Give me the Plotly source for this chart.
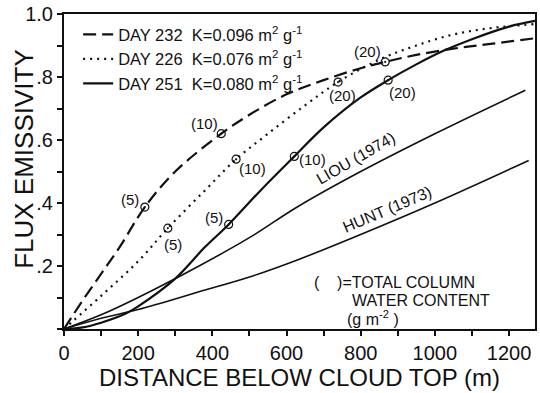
import plotly.graph_objects as go

# ---- data ----
dist_232 = [0, 50, 100, 150, 218, 300, 424, 500, 600, 700, 800, 866, 950, 1050, 1150, 1270]
emis_232 = [0, 0.09, 0.175, 0.26, 0.387, 0.5, 0.62, 0.68, 0.745, 0.79, 0.828, 0.848, 0.87, 0.89, 0.905, 0.923]

dist_226 = [0, 100, 200, 280, 380, 464, 550, 650, 739, 850, 950, 1050, 1150, 1270]
emis_226 = [0, 0.105, 0.215, 0.32, 0.44, 0.539, 0.62, 0.71, 0.784, 0.855, 0.9, 0.935, 0.955, 0.968]

dist_251 = [0, 50, 100, 168, 200, 300, 380, 444, 530, 621, 700, 800, 874, 950, 1023, 1100, 1200, 1270]
emis_251 = [0, 0.005, 0.02, 0.05, 0.072, 0.16, 0.26, 0.332, 0.44, 0.548, 0.64, 0.735, 0.79, 0.84, 0.883, 0.92, 0.96, 0.978]

dist_liou = [0, 100, 200, 364, 500, 631, 800, 1000, 1244]
emis_liou = [0, 0.045, 0.1, 0.2, 0.29, 0.389, 0.5, 0.62, 0.758]

dist_hunt = [0, 100, 200, 364, 500, 631, 800, 1000, 1253]
emis_hunt = [0, 0.034, 0.062, 0.118, 0.165, 0.22, 0.3, 0.4, 0.535]

# water-content markers (g m^-2)
mark_232_x = [218, 424, 866]
mark_232_y = [0.387, 0.62, 0.848]
mark_226_x = [280, 464, 739]
mark_226_y = [0.32, 0.539, 0.784]
mark_251_x = [444, 621, 874]
mark_251_y = [0.332, 0.548, 0.79]
mark_labels = ["(5)", "(10)", "(20)"]

legend_names = [
    "DAY 232  K=0.096 m<sup>2</sup> g<sup>-1</sup>",
    "DAY 226  K=0.076 m<sup>2</sup> g<sup>-1</sup>",
    "DAY 251  K=0.080 m<sup>2</sup> g<sup>-1</sup>",
]

x_tick_vals = list(range(0, 1201, 100))
x_tick_text = ["0", "", "200", "", "400", "", "600", "", "800", "", "1000", "", "1200"]
y_tick_vals = [0, 0.1, 0.2, 0.3, 0.4, 0.5, 0.6, 0.7, 0.8, 0.9, 1.0]
y_tick_text = ["", "", ".2", "", ".4", "", ".6", "", ".8", "", "1.0"]

FONT = "Liberation Sans"
BLACK = "#111111"

fig = go.Figure()

fig.add_trace(go.Scatter(x=dist_232, y=emis_232, mode="lines", name=legend_names[0],
                         line=dict(color=BLACK, width=2.2, dash="13px,6px", shape="spline")))
fig.add_trace(go.Scatter(x=dist_226, y=emis_226, mode="lines", name=legend_names[1],
                         line=dict(color=BLACK, width=2.2, dash="2px,5px", shape="spline")))
fig.add_trace(go.Scatter(x=dist_251, y=emis_251, mode="lines", name=legend_names[2],
                         line=dict(color=BLACK, width=2.2, shape="spline")))
fig.add_trace(go.Scatter(x=dist_liou, y=emis_liou, mode="lines", showlegend=False,
                         line=dict(color=BLACK, width=1.6, shape="spline")))
fig.add_trace(go.Scatter(x=dist_hunt, y=emis_hunt, mode="lines", showlegend=False,
                         line=dict(color=BLACK, width=1.6, shape="spline")))

for mx, my in [(mark_232_x, mark_232_y), (mark_226_x, mark_226_y), (mark_251_x, mark_251_y)]:
    fig.add_trace(go.Scatter(x=mx, y=my, mode="markers", showlegend=False,
                             marker=dict(symbol="circle-open-dot", size=8, color=BLACK,
                                         line=dict(width=1.2, color=BLACK))))

# label offsets (pixels, right / down) relative to each marker
offs_232 = [(-15, -8), (-17, -10), (-18, -10)]
offs_226 = [(5, 16), (16, 9), (4, 13)]
offs_251 = [(-15, -7), (18, 3), (14, 12)]
for mx, my, offs in [(mark_232_x, mark_232_y, offs_232), (mark_226_x, mark_226_y, offs_226),
                     (mark_251_x, mark_251_y, offs_251)]:
    for x, y, lab, (dx, dy) in zip(mx, my, mark_labels, offs):
        fig.add_annotation(x=x, y=y, text=lab, showarrow=False, xshift=dx, yshift=-dy,
                           font=dict(family=FONT, size=15, color=BLACK))

fig.add_annotation(x=786, y=0.54, text="LIOU (1974)", showarrow=False, textangle=-30,
                   font=dict(family=FONT, size=16, color=BLACK))
fig.add_annotation(x=871, y=0.378, text="HUNT (1973)", showarrow=False, textangle=-23,
                   font=dict(family=FONT, size=16, color=BLACK))

fig.add_annotation(x=670, y=0.148, text="(&nbsp;&nbsp;&nbsp;&nbsp;)=TOTAL COLUMN", showarrow=False,
                   xanchor="left", font=dict(family=FONT, size=16, color=BLACK))
fig.add_annotation(x=772, y=0.092, text="WATER CONTENT", showarrow=False,
                   xanchor="left", font=dict(family=FONT, size=16, color=BLACK))
fig.add_annotation(x=758, y=0.036, text="(g&nbsp;m<sup>-2</sup>&nbsp;)", showarrow=False,
                   xanchor="left", font=dict(family=FONT, size=16, color=BLACK))

# y-axis title placed as a rotated annotation
fig.add_annotation(xref="paper", x=-0.085, yref="y", y=0.54, text="FLUX EMISSIVITY",
                   showarrow=False, textangle=-90, xanchor="center", yanchor="middle",
                   font=dict(family=FONT, size=26, color=BLACK))

fig.update_layout(
    width=540, height=393,
    margin=dict(l=64, r=3, t=14, b=64),
    paper_bgcolor="white", plot_bgcolor="white",
    font=dict(family=FONT, color=BLACK),
    showlegend=True,
    legend=dict(x=0.03, y=0.99, xanchor="left", yanchor="top",
                bgcolor="rgba(0,0,0,0)", borderwidth=0,
                font=dict(family=FONT, size=16.5, color=BLACK),
                tracegroupgap=0, itemwidth=30),
    xaxis=dict(range=[0, 1270], tickvals=x_tick_vals, ticktext=x_tick_text,
               ticks="outside", ticklen=5, tickwidth=2, tickcolor=BLACK,
               showline=True, linewidth=2, linecolor=BLACK, mirror=True,
               showgrid=False, zeroline=False,
               tickfont=dict(family=FONT, size=20, color=BLACK),
               title=dict(text="DISTANCE BELOW CLOUD TOP (m)", standoff=2,
                          font=dict(family=FONT, size=24, color=BLACK))),
    yaxis=dict(range=[0, 1.0], tickvals=y_tick_vals, ticktext=y_tick_text,
               ticks="outside", ticklen=5, tickwidth=2, tickcolor=BLACK,
               showline=True, linewidth=2, linecolor=BLACK, mirror=True,
               showgrid=False, zeroline=False,
               tickfont=dict(family=FONT, size=20, color=BLACK)),
)

fig.write_html("out.html")
